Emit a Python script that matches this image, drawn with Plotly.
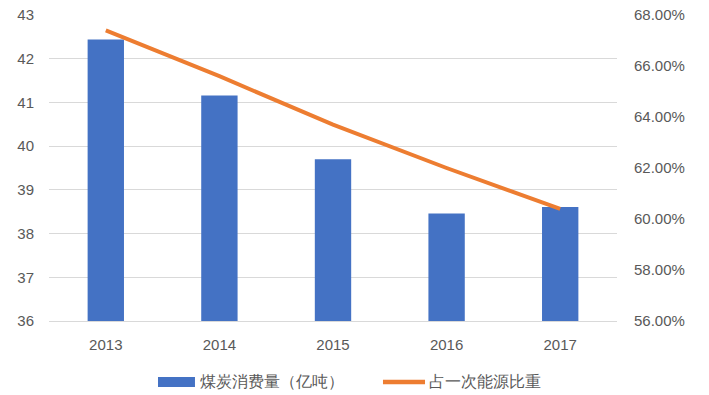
import plotly.graph_objects as go

years = ["2013", "2014", "2015", "2016", "2017"]
coal = [42.44, 41.16, 39.70, 38.46, 38.61]
share = [67.4, 65.6, 63.7, 62.0, 60.4]
left_ticks = [36, 37, 38, 39, 40, 41, 42, 43]
right_ticks = [56, 58, 60, 62, 64, 66, 68]
bar_name = "煤炭消费量（亿吨）"
line_name = "占一次能源比重"

font_family = "Liberation Sans, Arial"
blue = "#4472C4"
orange = "#ED7D31"
grey = "#595959"

fig = go.Figure()
fig.add_trace(go.Bar(
    x=years, y=coal, name=bar_name,
    marker=dict(color=blue, line=dict(width=0)),
    showlegend=False,
))
fig.add_trace(go.Scatter(
    x=years, y=share, name=line_name, yaxis="y2",
    mode="lines", line=dict(color=orange, width=4),
    showlegend=False,
))

# manual legend (positioned below plot area)
leg_y = -0.1993
fig.add_shape(type="rect", xref="paper", yref="paper",
              x0=0.1919, x1=0.2570, y0=-0.2157, y1=-0.1830,
              fillcolor=blue, line=dict(width=0))
fig.add_shape(type="line", xref="paper", yref="paper",
              x0=0.588, x1=0.662, y0=leg_y, y1=leg_y,
              line=dict(color=orange, width=4.5))
fig.add_annotation(text=bar_name, xref="paper", yref="paper", x=0.263, y=leg_y,
                   xanchor="left", yanchor="middle", showarrow=False,
                   font=dict(size=16, color=grey))
fig.add_annotation(text=line_name, xref="paper", yref="paper", x=0.666, y=leg_y,
                   xanchor="left", yanchor="middle", showarrow=False,
                   font=dict(size=16, color=grey))

fig.update_layout(
    width=709, height=395,
    margin=dict(l=49, r=92, t=15, b=74),
    paper_bgcolor="white", plot_bgcolor="white",
    bargap=0.68,
    showlegend=False,
    font=dict(family=font_family, color=grey, size=15),
    xaxis=dict(showgrid=False, showline=True, linecolor="#D9D9D9", ticks="",
               automargin=False, ticklabelstandoff=10,
               tickfont=dict(size=15, color=grey)),
    yaxis=dict(range=[36, 43], tickvals=left_ticks, showgrid=True, gridcolor="#D9D9D9",
               zeroline=False, ticks="", automargin=False, ticklabelstandoff=14,
               tickfont=dict(size=15, color=grey)),
    yaxis2=dict(range=[56, 68], tickvals=right_ticks,
                ticktext=[f"{v:.2f}%" for v in right_ticks],
                overlaying="y", side="right", showgrid=False, zeroline=False,
                ticks="", automargin=False, ticklabelstandoff=16,
                tickfont=dict(size=15, color=grey)),
)

fig.write_html("out.html", config={"displayModeBar": False},
               post_script="document.body.style.margin='0';")
